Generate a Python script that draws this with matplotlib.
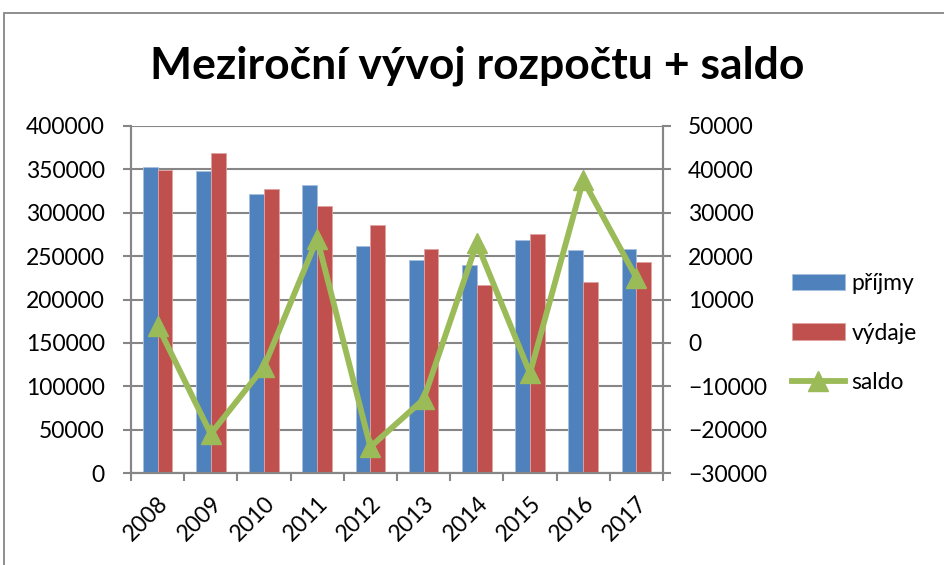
import matplotlib
matplotlib.use("Agg")
import matplotlib.pyplot as plt
import matplotlib.patches as mpatches
import numpy as np

# ── Data ─────────────────────────────────────────────────────────────────────
years = ["2008", "2009", "2010", "2011", "2012", "2013", "2014", "2015", "2016", "2017"]
prijmy = [353000, 348000, 321500, 332000, 262000, 245000, 240000, 269000, 257000, 258000]
vydaje = [349000, 369000, 327000, 308000, 286000, 258000, 217000, 276000, 220000, 243000]
saldo = [4000, -21000, -5500, 24000, -24000, -13000, 23000, -7000, 37500, 15000]

# ── Colours ──────────────────────────────────────────────────────────────────
C_BLUE = "#4F81BD"
C_RED = "#C0504D"
C_GREEN = "#9BBB59"
C_AXIS = "#868686"

plt.rcParams["font.family"] = ["Lato", "DejaVu Sans"]

W, H = 944, 565
fig = plt.figure(figsize=(W / 100, H / 100), dpi=100)

# outer chart frame
fig.patches.append(mpatches.Rectangle(
    (4 / W, -0.02), 1.05, 1 - 13 / H + 0.02, transform=fig.transFigure,
    fill=False, edgecolor=C_AXIS, lw=1.3))

ax = fig.add_axes([131 / W, 1 - 473 / H, (663 - 131) / W, (473 - 126) / H])
ax2 = ax.twinx()

x = np.arange(len(years))
bw = 0.28
ax.bar(x - bw / 2, prijmy, bw, color=C_BLUE, edgecolor="#A7C0DE", lw=0.6, label="příjmy")
ax.bar(x + bw / 2, vydaje, bw, color=C_RED, edgecolor="#E0A3A2", lw=0.6, label="výdaje")
ax2.plot(x, saldo, color=C_GREEN, lw=4.2, marker="^", markersize=14, label="saldo")

ax.set_xlim(-0.5, len(years) - 0.5)
ax.set_ylim(0, 400000)
ax2.set_ylim(-30000, 50000)
ax.set_yticks(np.arange(0, 400001, 50000))
ax2.set_yticks(np.arange(-30000, 50001, 10000))
ax.set_axisbelow(True)
ax.grid(True, axis="y", color=C_AXIS, lw=1.5)

ax.set_xticks(x)
ax.set_xticklabels(years, rotation=45, ha="right", va="top", rotation_mode="anchor")
ax.set_xticks(np.arange(-0.5, len(years), 1.0), minor=True)
ax.tick_params(axis="x", which="major", length=0, pad=14, labelsize=16.5)
ax.tick_params(axis="x", which="minor", length=6, width=1.5, color=C_AXIS)
ax.tick_params(axis="y", length=6, width=1.5, color=C_AXIS, pad=13, labelsize=16.5)
ax2.tick_params(axis="y", length=6, width=1.5, color=C_AXIS, pad=12, labelsize=16.5)

for a in (ax, ax2):
    for s in a.spines.values():
        s.set_color(C_AXIS)
        s.set_linewidth(1.5)
    a.spines["top"].set_visible(False)

fig.text(477 / W, 1 - 66 / H, "Meziroční vývoj rozpočtu + saldo",
         ha="center", va="center", fontsize=32, fontweight="bold")

h1, l1 = ax.get_legend_handles_labels()
h2, l2 = ax2.get_legend_handles_labels()
fig.legend(h1 + h2, l1 + l2, loc="center left", bbox_to_anchor=(792 / W, 1 - 333 / H),
           frameon=False, fontsize=16.5, handlelength=2.3, handleheight=0.7,
           handletextpad=0.3, labelspacing=1.25, borderpad=0, borderaxespad=0)

fig.savefig("out.png", dpi=100)
